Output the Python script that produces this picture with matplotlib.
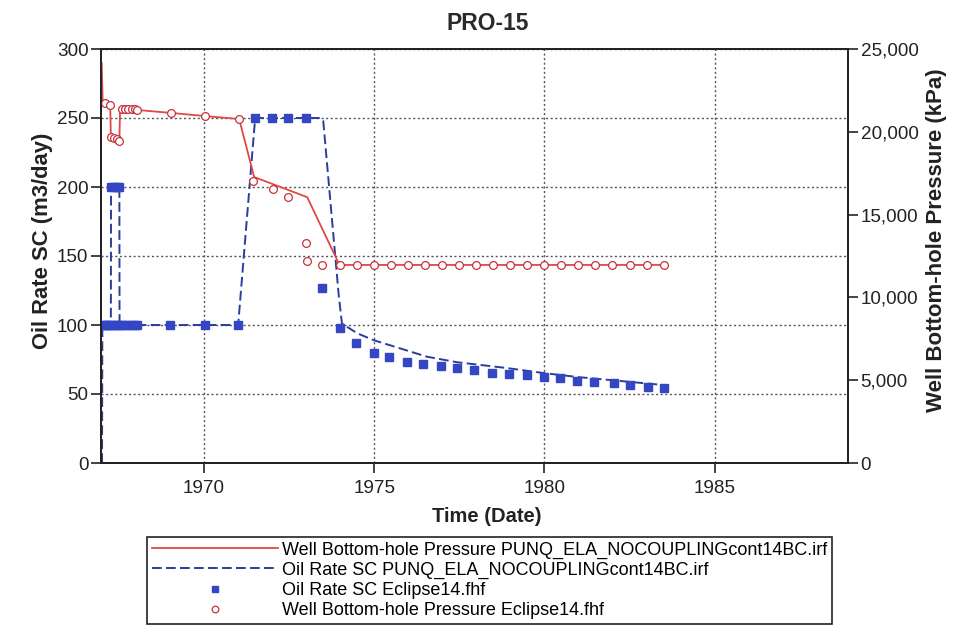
import matplotlib
matplotlib.use('Agg')
import matplotlib.pyplot as plt
from matplotlib.ticker import FuncFormatter, MultipleLocator

plt.rcParams['font.family'] = ['Liberation Sans', 'DejaVu Sans']

# simulated well bottom-hole pressure, kPa (PUNQ_ELA_NOCOUPLINGcont14BC.irf)
bhp_sim_t = [1966.99, 1967.02, 1967.09, 1967.24, 1967.26, 1967.35, 1967.43, 1967.51,
             1967.53, 1967.59, 1968.02, 1969.03, 1970.03, 1971.03, 1971.47, 1973.03,
             1973.88, 1973.97, 1983.5]
bhp_sim = [24150, 21760, 21740, 21620, 19690, 19630, 19570, 19440,
           21380, 21380, 21320, 21140, 20950, 20770, 17270, 16050,
           12380, 11960, 11960]

# simulated oil rate, m3/day (PUNQ_ELA_NOCOUPLINGcont14BC.irf)
rate_sim_t = [1967.0, 1967.01, 1967.26, 1967.265, 1967.51, 1967.515, 1971.0, 1971.5,
              1973.41, 1973.5, 1973.95, 1974.05, 1974.5, 1974.98, 1976.55, 1977.44,
              1978.9, 1979.97, 1980.97, 1981.94, 1983.5]
rate_sim = [0, 100, 100, 200, 200, 100, 100, 250,
            250, 248, 123, 101, 94, 89, 77, 73,
            68.8, 65.2, 62.3, 60.1, 56.5]

# Eclipse14.fhf oil rate, m3/day
rate_ecl_t = [1967.04, 1967.09, 1967.15, 1967.21, 1967.27, 1967.35, 1967.43, 1967.51,
              1967.59, 1967.68, 1967.77, 1967.87, 1967.97, 1968.02,
              1967.27, 1967.35, 1967.43, 1967.51,
              1969.0, 1970.03, 1971.0, 1971.5, 1972.0, 1972.47, 1973.0, 1973.47,
              1974.0, 1974.47, 1975.0, 1975.44, 1975.97, 1976.44, 1976.97, 1977.44,
              1977.94, 1978.47, 1978.97, 1979.5, 1980.0, 1980.47, 1980.97, 1981.47,
              1982.03, 1982.5, 1983.03, 1983.5]
rate_ecl = [100, 100, 100, 100, 100, 100, 100, 100,
            100, 100, 100, 100, 100, 100,
            200, 200, 200, 200,
            100, 100, 100, 250, 250, 250, 250, 127,
            98, 87, 80, 77, 73, 72, 70.3, 69.2,
            67.6, 65.5, 64.5, 63.8, 62.3, 61.6, 59.4, 58.7,
            58, 56.5, 55.1, 54.3]

# Eclipse14.fhf bottom-hole pressure, kPa
bhp_ecl_t = [1967.09, 1967.24, 1967.27, 1967.35, 1967.43, 1967.51, 1967.59, 1967.68,
             1967.77, 1967.87, 1967.97, 1968.02, 1969.03, 1970.03, 1971.03, 1971.44,
             1972.03, 1972.47, 1973.0, 1973.03, 1973.47,
             1974.0, 1974.5, 1975.0, 1975.5, 1976.0, 1976.5, 1977.0, 1977.5, 1978.0,
             1978.5, 1979.0, 1979.5, 1980.0, 1980.5, 1981.0, 1981.5, 1982.0, 1982.5,
             1983.0, 1983.5]
bhp_ecl = [21740, 21620, 19690, 19630, 19570, 19440, 21380, 21380,
           21380, 21360, 21350, 21320, 21140, 20950, 20770, 17030,
           16550, 16060, 13290, 12200, 11960,
           11960, 11960, 11960, 11960, 11960, 11960, 11960, 11960, 11960,
           11960, 11960, 11960, 11960, 11960, 11960, 11960, 11960, 11960,
           11960, 11960]

year_ticks = [1970, 1975, 1980, 1985]

red = '#e04848'
red_mk = '#c8323c'
blue_line = '#2c3c9c'
blue_mk = '#3446c4'

fig = plt.figure(figsize=(9.54, 6.27), dpi=100)
ax = fig.add_axes([101 / 954, 1 - 463 / 627, 747 / 954, 414 / 627])
ax2 = ax.twinx()

l_rate, = ax.plot(rate_sim_t, rate_sim, color=blue_line, lw=1.4, linestyle=(0, (5, 2.2)),
                  label='Oil Rate SC PUNQ_ELA_NOCOUPLINGcont14BC.irf')
m_rate, = ax.plot(rate_ecl_t, rate_ecl, linestyle='none', marker='s', ms=5.4,
                  color=blue_mk, mec=blue_mk, label='Oil Rate SC Eclipse14.fhf')
l_bhp, = ax2.plot(bhp_sim_t, bhp_sim, color=red, lw=1.3,
                  label='Well Bottom-hole Pressure PUNQ_ELA_NOCOUPLINGcont14BC.irf')
m_bhp, = ax2.plot(bhp_ecl_t, bhp_ecl, linestyle='none', marker='o', ms=5.6,
                  mfc='white', mec=red_mk, mew=0.9, label='Well Bottom-hole Pressure Eclipse14.fhf')

ax.set_xlim(1966.97, 1988.92)
ax.set_ylim(0, 300)
ax2.set_ylim(0, 25000)
ax.set_xticks(year_ticks)
ax.yaxis.set_major_locator(MultipleLocator(50))
ax2.yaxis.set_major_locator(MultipleLocator(5000))
ax2.yaxis.set_major_formatter(FuncFormatter(lambda v, p: '{:,.0f}'.format(v)))

ax.grid(True, color='#555555', lw=1.0, linestyle=(0, (1.5, 1.8)))
ax.set_axisbelow(True)

for a in (ax, ax2):
    for s in a.spines.values():
        s.set_color('#222222')
        s.set_linewidth(1.3)
ax.tick_params(axis='both', direction='out', length=7, width=1.2, labelsize=13.6,
               colors='#222222', pad=2)
ax.tick_params(axis='x', length=7, pad=5)
ax2.tick_params(axis='y', direction='out', length=7, width=1.2, labelsize=13.6,
                colors='#222222', pad=2)

fig.text(488 / 954, 1 - 24 / 627, 'PRO-15', ha='center', va='center',
         fontsize=16.5, fontweight='bold', color='#2a2a2a')
fig.text(487 / 954, 1 - 516 / 627, 'Time (Date)', ha='center', va='center',
         fontsize=14.5, fontweight='bold', color='#222222')
fig.text(43 / 954, 1 - 241 / 627, 'Oil Rate SC (m3/day)', ha='center', va='center',
         rotation=90, fontsize=15.8, fontweight='bold', color='#222222')
fig.text(937 / 954, 1 - 240 / 627, 'Well Bottom-hole Pressure (kPa)', ha='center',
         va='center', rotation=90, fontsize=16, fontweight='bold', color='#222222')

leg = fig.legend(handles=[l_bhp, l_rate, m_rate, m_bhp], loc='upper left',
                 bbox_to_anchor=(147 / 954, 1 - 537 / 627), fontsize=13,
                 frameon=True, fancybox=False, framealpha=1, edgecolor='#222222',
                 borderpad=0.25, handlelength=7.0, handletextpad=0.25,
                 labelspacing=0.17, borderaxespad=0, markerscale=0.85)
leg.get_frame().set_linewidth(1.2)

fig.savefig('out.png', dpi=100)
